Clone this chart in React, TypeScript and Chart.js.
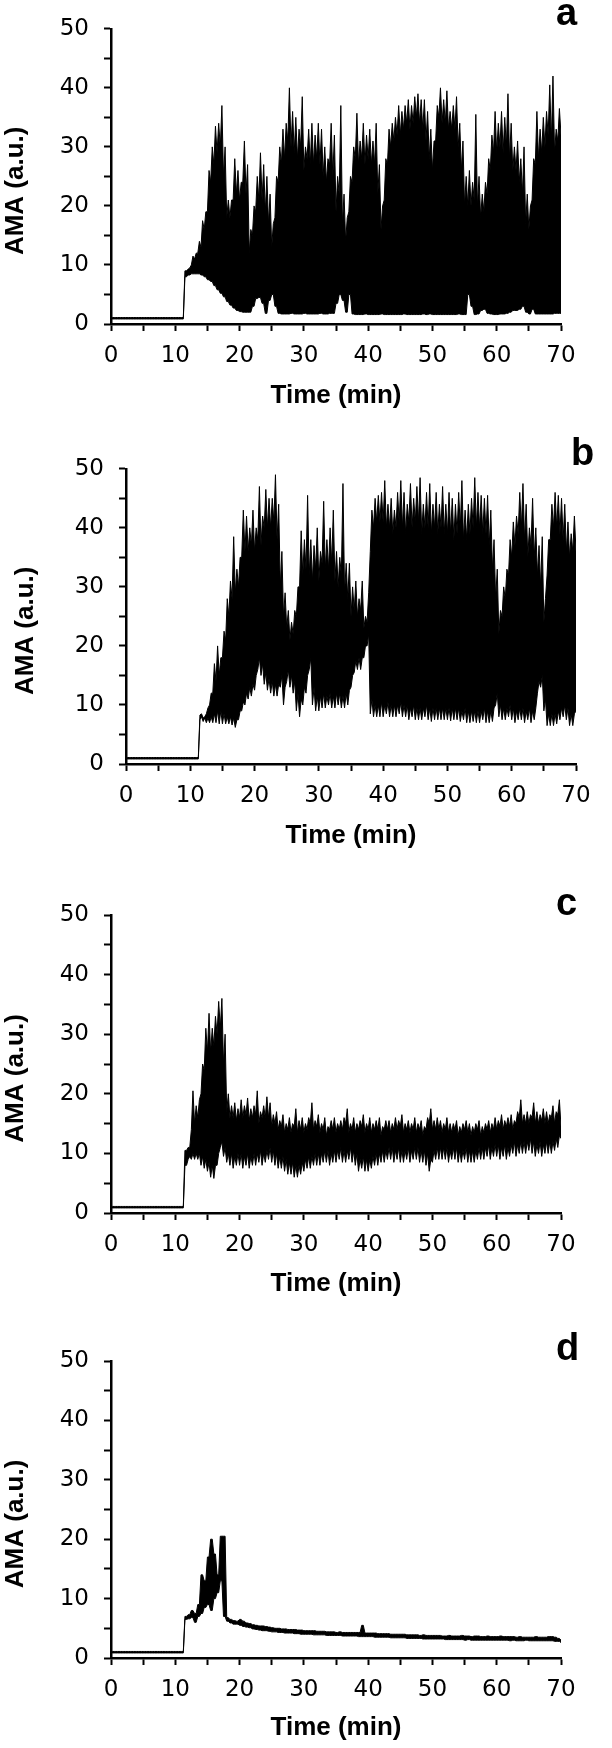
import React, { useEffect, useRef } from "react";
import { Chart, registerables } from "chart.js";

Chart.register(...registerables);

// sampling grid of the envelope readings (minutes)
const SAMPLE_STEP_MIN = 0.5;
const X_MIN = 0;
const X_MAX = 70;
const Y_MIN = 0;
const Y_MAX = 50;
const X_TITLE = "Time (min)";
const Y_TITLE = "AMA (a.u.)";
const PANEL_LETTERS = ["a", "b", "c", "d"];

// ---- Panel a: one value every 0.5 min from 0 to 70 ----
// spike tops of the oscillation
const aUpper = [
  1.1, 1.1, 1.1, 1.1, 1.1, 1.1, 1.1, 1.1, 1.1, 1.1,
  1.1, 1.1, 1.1, 1.1, 1.1, 1.1, 1.1, 1.1, 1.1, 1.1,
  1.1, 1.1, 1.1, 9, 9.5, 11.5, 12, 14, 17.5, 19,
  26, 30, 33.5, 34, 37, 30, 21, 21, 28, 26,
  24, 31, 27, 16, 20, 25, 29, 27, 25, 22,
  17, 25, 30, 33, 34, 40, 36, 35, 33, 38.5,
  30, 33, 34, 32, 34, 33, 30, 28, 34, 32,
  25, 37, 22, 18, 25, 30, 35.7, 31, 34, 32,
  33, 31, 34, 27, 20, 28, 33, 34, 35, 37,
  36, 37, 38, 37, 38.5, 39, 38, 38, 36, 33,
  31, 37, 40, 38, 39.5, 36, 37, 38.5, 34, 31,
  25, 26, 24, 35.5, 25, 22, 24, 28, 32, 36,
  34, 36, 35, 39, 34, 30, 31, 28, 30, 22,
  20, 28, 36, 33, 35, 36, 40.5, 42, 33, 36.5,
  38,
];
// top of the solid black core
const aUpperCore = [
  1.1, 1.1, 1.1, 1.1, 1.1, 1.1, 1.1, 1.1, 1.1, 1.1,
  1.1, 1.1, 1.1, 1.1, 1.1, 1.1, 1.1, 1.1, 1.1, 1.1,
  1.1, 1.1, 1.1, 9, 9.3, 10, 11, 12, 13, 16,
  19, 24, 27, 29, 30, 25, 18, 18, 21, 22,
  21, 24, 22, 12, 15, 19, 21, 21, 19, 17,
  13, 18, 24, 27, 28, 31, 30, 29, 28, 30,
  26, 28, 27, 27, 28, 27, 25, 24, 27, 25,
  19, 22, 17, 14, 19, 24, 28, 27, 28, 27,
  28, 27, 27, 22, 16, 21, 27, 30, 31, 32,
  32, 33, 34, 33, 34, 35, 34, 33, 31, 28,
  26, 31, 35, 34, 34, 33, 33, 33, 30, 26,
  20, 20, 20, 21, 20, 18, 19, 22, 26, 29,
  29, 30, 29, 30, 28, 26, 26, 24, 22, 17,
  16, 21, 27, 28, 29, 30, 32, 31, 29, 31,
  32,
];
// troughs of the oscillation
const aLower = [
  0.85, 0.85, 0.85, 0.85, 0.85, 0.85, 0.85, 0.85, 0.85, 0.85,
  0.85, 0.85, 0.85, 0.85, 0.85, 0.85, 0.85, 0.85, 0.85, 0.85,
  0.85, 0.85, 0.85, 8, 8.3, 8.5, 8.5, 8.5, 8.3, 8,
  7.5, 7.2, 6.5, 5.8, 5.2, 4.6, 3.8, 3.2, 2.7, 2.3,
  2.1, 2, 2, 2, 3, 4.3, 4.5, 3.5, 1.8, 4,
  5, 3, 1.8, 1.7, 1.7, 1.7, 1.8, 1.7, 1.7, 1.7,
  1.8, 1.7, 1.7, 1.7, 1.7, 1.8, 1.7, 1.7, 1.8, 1.8,
  3.5, 5, 4, 2, 5, 1.7, 1.6, 1.6, 1.6, 1.7,
  1.6, 1.6, 1.6, 1.6, 1.7, 1.6, 1.6, 1.6, 1.6, 1.6,
  1.6, 1.7, 1.6, 1.6, 1.6, 1.6, 1.6, 1.7, 1.6, 1.7,
  1.6, 1.6, 1.6, 1.6, 1.6, 1.6, 1.6, 1.6, 1.7, 1.6,
  1.6, 5, 3, 1.6, 1.7, 2.3, 2.5, 1.8, 1.7, 1.6,
  1.6, 1.7, 1.7, 1.8, 2, 2.3, 2.3, 2.5, 3, 2,
  1.7, 2.5, 1.7, 1.7, 1.7, 1.7, 1.7, 1.7, 1.8, 1.8,
  1.8,
];

// ---- Panel b ----
const bUpper = [
  1.1, 1.1, 1.1, 1.1, 1.1, 1.1, 1.1, 1.1, 1.1, 1.1,
  1.1, 1.1, 1.1, 1.1, 1.1, 1.1, 1.1, 1.1, 1.1, 1.1,
  1.1, 1.1, 1.1, 8.5, 8, 9.5, 12, 17, 20, 18,
  22.5, 28, 31, 38.5, 33, 35, 43, 42, 40, 43,
  40, 47, 42, 46.5, 45, 45, 49, 44, 36, 29,
  26, 24, 26, 30, 39.5, 38, 45.5, 38, 37, 40,
  36, 44.5, 38, 40, 43, 36, 35, 47.5, 34, 34,
  30, 31, 28, 31, 25, 29, 43, 45, 45.5, 46,
  48, 44, 45, 43, 46, 48, 46, 44, 47.5, 45,
  47, 48.5, 44, 46, 47.5, 44, 46, 44, 47, 44,
  46, 45, 44, 46, 48, 43, 44, 45, 48.5, 46,
  45.5, 45, 45.5, 43, 38, 33, 26, 30, 33, 38,
  41, 42, 46, 47.5, 44, 40, 45, 40, 37, 38.5,
  28, 38, 44, 46, 45.5, 45, 44, 41, 39, 42,
  41.5,
];
const bUpperCore = [
  1.1, 1.1, 1.1, 1.1, 1.1, 1.1, 1.1, 1.1, 1.1, 1.1,
  1.1, 1.1, 1.1, 1.1, 1.1, 1.1, 1.1, 1.1, 1.1, 1.1,
  1.1, 1.1, 1.1, 8.3, 7.8, 8.5, 10, 12, 14, 15,
  18, 21, 25, 28, 29, 30, 35, 36, 36, 37,
  36, 38, 37, 40, 40, 40, 41, 38, 30, 25,
  23, 21, 22, 25, 30, 32, 33, 32, 31, 33,
  31, 34, 33, 33, 34, 31, 30, 32, 29, 28,
  25, 26, 25, 26, 23, 24, 36, 40, 41, 41,
  41, 40, 40, 39, 40, 41, 40, 39, 41, 40,
  41, 41, 39, 40, 40, 39, 40, 39, 40, 39,
  39, 39, 38, 39, 40, 38, 38, 39, 40, 40,
  40, 39, 39, 37, 33, 28, 22, 25, 28, 32,
  35, 37, 39, 40, 38, 35, 37, 35, 32, 30,
  24, 32, 38, 40, 40, 39, 38, 36, 35, 36,
  36,
];
const bLowerCore = [
  0.85, 0.85, 0.85, 0.85, 0.85, 0.85, 0.85, 0.85, 0.85, 0.85,
  0.85, 0.85, 0.85, 0.85, 0.85, 0.85, 0.85, 0.85, 0.85, 0.85,
  0.85, 0.85, 0.85, 8, 7.8, 7.8, 8, 8.5, 9, 9,
  8.5, 8, 8, 7.8, 7.5, 9, 10.5, 12, 13, 13.5,
  15, 18, 17, 15.5, 14.5, 14, 13.5, 13.5, 15, 13,
  16, 15, 14, 12, 11, 13, 15, 18, 13, 11.5,
  11.5, 12, 11.5, 12, 11.5, 12, 12, 11.5, 12, 12.5,
  15, 17.5, 18, 18, 20, 22, 11, 10, 10, 10.5,
  10, 10.5, 10, 10, 10, 10.5, 10, 10, 9.5, 10,
  9.5, 9.5, 9.5, 10, 9.5, 9.5, 9.5, 9.5, 9.5, 9.5,
  9.5, 9.5, 9.5, 9.5, 9, 9.5, 9, 9, 9, 9,
  9, 9.5, 9, 9, 9.5, 12, 10, 9.5, 9.5, 10,
  9.5, 9, 9.5, 9.5, 9, 9.5, 9, 9.5, 14, 15,
  11, 8.5, 8.5, 8.5, 9, 9.5, 10, 9.5, 8.5, 8.5,
  11,
];
const bLower = [
  0.85, 0.85, 0.85, 0.85, 0.85, 0.85, 0.85, 0.85, 0.85, 0.85,
  0.85, 0.85, 0.85, 0.85, 0.85, 0.85, 0.85, 0.85, 0.85, 0.85,
  0.85, 0.85, 0.85, 7.5, 7.2, 7, 7, 7, 7, 6.8,
  6.8, 6.8, 6.8, 6.6, 6.2, 7.5, 9, 10, 11, 11.5,
  12.5, 16, 15, 13.5, 12.5, 12, 11.5, 11.5, 13, 10,
  14, 13, 12, 9, 8, 10, 12, 16, 10, 9,
  9, 9.5, 9.5, 10, 9.5, 9.5, 10, 9.5, 9.5, 10,
  13, 15.5, 16, 16, 18, 20, 8.5, 8, 8, 8,
  8, 8.5, 8, 8, 8, 8.5, 8, 8, 7.5, 8,
  7.5, 7.5, 7.5, 8, 7.5, 7.2, 7.5, 7.5, 7.5, 7.5,
  7.5, 7.3, 7.5, 7.5, 7.2, 7.5, 7, 7, 7.2, 7,
  7, 7.5, 7, 7, 7.2, 10, 8, 7.5, 7.5, 8,
  7.5, 7, 7.5, 7.5, 7, 7.5, 7, 7.5, 12, 13,
  9, 6.5, 6.5, 6.5, 6.8, 7.5, 8, 7.5, 6.5, 6.5,
  9,
];

// ---- Panel c ----
const cUpper = [
  1.1, 1.1, 1.1, 1.1, 1.1, 1.1, 1.1, 1.1, 1.1, 1.1,
  1.1, 1.1, 1.1, 1.1, 1.1, 1.1, 1.1, 1.1, 1.1, 1.1,
  1.1, 1.1, 1.1, 10.5, 11, 20.5, 18, 19, 25, 31,
  33.5, 31, 33, 35.5, 36, 30, 20, 18, 18.5, 17.5,
  19, 18, 19.3, 17.5, 18, 20.5, 17, 18, 19.5, 18.5,
  16.5, 17, 15.5, 16.5, 15, 16, 15, 17.5, 15.5, 16,
  15, 16, 18.5, 15.5, 16.5, 15, 16, 14.5, 15.5, 16,
  15, 15.5, 16, 17.5, 15, 16, 15, 15.5, 16.5, 15,
  16, 15, 15.5, 16, 14.5, 15.5, 15.5, 15, 16, 15.5,
  16.5, 15, 15.5, 15, 16, 15, 15.5, 14.5, 16, 17.5,
  15.5, 16, 15.5, 15, 16, 15, 15, 15.5, 14.5, 15,
  15.5, 15, 14.5, 15, 15.5, 14.5, 15, 15.5, 15, 16,
  15.5, 16.5, 15.5, 16, 16.5, 15.5, 17, 19, 16.5, 17,
  16.5, 18.5, 17, 16.5, 17.5, 17, 16.5, 18, 17, 19,
  16,
];
const cUpperCore = [
  1.1, 1.1, 1.1, 1.1, 1.1, 1.1, 1.1, 1.1, 1.1, 1.1,
  1.1, 1.1, 1.1, 1.1, 1.1, 1.1, 1.1, 1.1, 1.1, 1.1,
  1.1, 1.1, 1.1, 10.5, 11, 14, 15, 16, 20, 24,
  27, 27, 28, 30, 31, 25, 17, 16, 16, 15.5,
  16, 16, 16.5, 15.5, 16, 16.5, 15, 16, 16, 16,
  14.5, 15, 14, 14.5, 13.5, 14, 13.5, 14.5, 13.5, 14,
  13.5, 14, 15, 14, 14.5, 13.5, 14, 13, 14, 14,
  13.5, 14, 14, 15, 13.5, 14, 13.5, 14, 14.5, 13.5,
  14, 13.5, 14, 14, 13, 14, 14, 13.5, 14, 14,
  14.5, 13.5, 14, 13.5, 14, 13.5, 14, 13, 14, 15,
  14, 14, 14, 13.5, 14, 13.5, 13.5, 14, 13, 13.5,
  14, 13.5, 13, 13.5, 14, 13, 13.5, 14, 13.5, 14,
  14, 14.5, 14, 14.5, 14.5, 14, 15, 16, 15, 15,
  15, 16, 15, 15, 15.5, 15, 15, 16, 15, 16.5,
  14.5,
];
const cLowerCore = [
  0.85, 0.85, 0.85, 0.85, 0.85, 0.85, 0.85, 0.85, 0.85, 0.85,
  0.85, 0.85, 0.85, 0.85, 0.85, 0.85, 0.85, 0.85, 0.85, 0.85,
  0.85, 0.85, 0.85, 8, 9.5, 10, 10, 10, 9.5, 9,
  8.5, 8, 8, 10, 12, 11, 10, 10, 9.5, 10,
  10, 9.5, 10, 9.5, 10, 10, 10.5, 10, 10.5, 11,
  10.5, 10, 9.5, 9.5, 9, 8.5, 8.5, 8, 8, 8.5,
  9, 9.5, 9.5, 10, 10, 10, 10.5, 10.5, 10, 10.5,
  10.5, 11, 10.5, 10.5, 11, 10.5, 10, 9, 9.5, 9,
  9, 9.5, 10, 10, 10.5, 10.5, 11, 11, 10.5, 11,
  10.5, 10.5, 11, 10.5, 11, 11, 10.5, 10.5, 10, 9,
  10.5, 11, 11, 11, 11, 10.5, 11, 11, 10.5, 10.5,
  11, 10.5, 10.5, 10.5, 11, 11, 11, 11.5, 11, 11.5,
  11.5, 11, 11.5, 11, 11.5, 12, 11.5, 12, 12, 12,
  12.5, 12, 11.5, 12, 11.5, 12, 12, 12, 12.5, 13,
  13.5,
];
const cLower = [
  0.85, 0.85, 0.85, 0.85, 0.85, 0.85, 0.85, 0.85, 0.85, 0.85,
  0.85, 0.85, 0.85, 0.85, 0.85, 0.85, 0.85, 0.85, 0.85, 0.85,
  0.85, 0.85, 0.85, 8, 9, 9, 9, 9, 8, 7.5,
  7, 6, 5.8, 8, 11, 9.5, 8.5, 8, 7.5, 8,
  8, 7.5, 8, 7.5, 8, 8, 8.5, 8, 8.5, 9,
  8.5, 8, 7.5, 7.5, 7, 6.5, 6.5, 6, 6, 6.5,
  7, 7.5, 7.5, 8, 8, 8, 8.5, 8.5, 8, 8.5,
  8.5, 9, 8.5, 8.5, 9, 8.5, 8, 7, 7.5, 7,
  7, 7.5, 8, 8, 8.5, 8.5, 9, 9, 8.5, 9,
  8.5, 8.5, 9, 8.5, 9, 9, 8.5, 8.5, 8, 7,
  8.5, 9, 9, 9, 9, 8.5, 9, 9, 8.5, 8.5,
  9, 8.5, 8.5, 8.5, 9, 9, 9, 9.5, 9, 9.5,
  9.5, 9, 9.5, 9, 9.5, 10, 9.5, 10, 10, 10,
  10.5, 10, 9.5, 10, 9.5, 10, 10, 10, 10.5, 11,
  12.5,
];

// ---- Panel d ----
const dUpper = [
  1.1, 1.1, 1.1, 1.1, 1.1, 1.1, 1.1, 1.1, 1.1, 1.1,
  1.1, 1.1, 1.1, 1.1, 1.1, 1.1, 1.1, 1.1, 1.1, 1.1,
  1.1, 1.1, 1.1, 7, 7.3, 8, 7.5, 9, 14, 13,
  17, 20, 17.5, 14, 20.5, 20.5, 6.8, 6.5, 6.3, 6.2,
  6.5, 6.2, 5.9, 5.8, 5.6, 5.5, 5.4, 5.4, 5.3, 5.2,
  5.1, 5, 5, 4.9, 4.9, 4.8, 4.8, 4.8, 4.7, 4.7,
  4.6, 4.6, 4.6, 4.6, 4.5, 4.5, 4.5, 4.4, 4.4, 4.4,
  4.3, 4.4, 4.3, 4.3, 4.3, 4.3, 4.3, 4.3, 5.5, 4.2,
  4.2, 4.2, 4.2, 4.1, 4.1, 4.1, 4.1, 4.0, 4.0, 4.0,
  4.0, 4.0, 3.9, 3.9, 3.9, 3.9, 3.8, 3.9, 3.8, 3.8,
  3.8, 3.8, 3.8, 3.7, 3.7, 3.8, 3.7, 3.7, 3.7, 3.8,
  3.7, 3.7, 3.6, 3.7, 3.7, 3.6, 3.6, 3.7, 3.6, 3.6,
  3.6, 3.7, 3.6, 3.6, 3.6, 3.6, 3.5, 3.6, 3.5, 3.5,
  3.5, 3.5, 3.6, 3.5, 3.5, 3.5, 3.6, 3.6, 3.5, 3.3,
  3.0,
];
const dLower = [
  0.85, 0.85, 0.85, 0.85, 0.85, 0.85, 0.85, 0.85, 0.85, 0.85,
  0.85, 0.85, 0.85, 0.85, 0.85, 0.85, 0.85, 0.85, 0.85, 0.85,
  0.85, 0.85, 0.85, 6.5, 6.6, 6.8, 6, 7, 7.5, 8.5,
  9, 8, 10, 11, 13, 7, 6.2, 5.9, 5.7, 5.7,
  5.5, 5.3, 5.2, 5.1, 4.9, 4.8, 4.7, 4.6, 4.6, 4.5,
  4.4, 4.4, 4.3, 4.3, 4.2, 4.2, 4.2, 4.1, 4.1, 4.0,
  4.0, 4.0, 4.0, 3.9, 3.9, 3.9, 3.9, 3.8, 3.8, 3.8,
  3.8, 3.8, 3.7, 3.7, 3.7, 3.7, 3.7, 3.6, 3.6, 3.6,
  3.6, 3.6, 3.5, 3.5, 3.5, 3.5, 3.5, 3.4, 3.4, 3.4,
  3.4, 3.4, 3.3, 3.3, 3.3, 3.3, 3.3, 3.2, 3.2, 3.2,
  3.2, 3.2, 3.2, 3.2, 3.1, 3.1, 3.1, 3.1, 3.1, 3.1,
  3.0, 3.1, 3.0, 3.0, 3.0, 3.0, 3.0, 3.0, 3.0, 3.0,
  3.0, 3.0, 3.0, 3.0, 2.9, 3.0, 2.9, 2.9, 2.9, 3.0,
  2.9, 2.9, 2.9, 2.9, 2.9, 2.9, 2.9, 2.9, 2.8, 2.8,
  2.6,
];

const FONT = '"Liberation Sans", Arial, Helvetica, sans-serif';
const TICK_FONT = '"DejaVu Sans", "Liberation Sans", Arial, sans-serif';
const PAGE_W = 612;
const PLOT_W = 450;

type PanelSpec = {
  letter: string;
  upper: number[];
  upperCore: number[];
  lowerCore: number[];
  lower: number[];
  top: number;
  height: number;
  axisLeft: number;
  plotTop: number;
  plotBottom: number;
  xTitleY: number;
  yTitlePad: number;
  letterX: number;
  letterBaseline: number;
};

const PANELS: PanelSpec[] = [
  { letter: PANEL_LETTERS[0], upper: aUpper, upperCore: aUpperCore, lowerCore: aLower, lower: aLower, top: 0, height: 440, axisLeft: 111, plotTop: 26, plotBottom: 324, xTitleY: 395, yTitlePad: 0, letterX: 556, letterBaseline: 25 },
  { letter: PANEL_LETTERS[1], upper: bUpper, upperCore: bUpperCore, lowerCore: bLowerCore, lower: bLower, top: 440, height: 440, axisLeft: 126, plotTop: 26, plotBottom: 324, xTitleY: 395, yTitlePad: 10, letterX: 571, letterBaseline: 25 },
  { letter: PANEL_LETTERS[2], upper: cUpper, upperCore: cUpperCore, lowerCore: cLowerCore, lower: cLower, top: 880, height: 440, axisLeft: 111, plotTop: 35, plotBottom: 333, xTitleY: 403, yTitlePad: 0, letterX: 556, letterBaseline: 35 },
  { letter: PANEL_LETTERS[3], upper: dUpper, upperCore: dUpper, lowerCore: dLower, lower: dLower, top: 1320, height: 428, axisLeft: 111, plotTop: 41, plotBottom: 338, xTitleY: 407, yTitlePad: 0, letterX: 556, letterBaseline: 40 },
];

// edge of the black trace: at each sample time the first value, a quarter step later the second
function edgePoints(first: number[], second: number[]) {
  const pts: { x: number; y: number }[] = [];
  for (let k = 0; k < first.length; k++) {
    const t = k * SAMPLE_STEP_MIN;
    pts.push({ x: t, y: first[k] });
    pts.push({ x: t + SAMPLE_STEP_MIN / 2, y: second[k] });
  }
  return pts;
}

function Panel({ spec }: { spec: PanelSpec }) {
  const ref = useRef<HTMLCanvasElement>(null);
  useEffect(() => {
    const canvas = ref.current;
    if (!canvas) return;
    const titleFontSize = 26;
    const xScaleH = Math.round(spec.xTitleY + (titleFontSize * 1.2) / 2 - spec.plotBottom);
    const tickCallback = (v: any) => (Number(v) % 10 === 0 ? String(v) : "");
    const chart = new Chart(canvas, {
      type: "line",
      data: {
        datasets: [
          {
            label: "AMA upper edge",
            data: edgePoints(spec.upperCore, spec.upper),
            borderColor: "#000",
            backgroundColor: "#000",
            borderWidth: 1,
            pointRadius: 0,
            fill: "+1",
            tension: 0,
          },
          {
            label: "AMA lower edge",
            data: edgePoints(spec.lower, spec.lowerCore),
            borderColor: "#000",
            backgroundColor: "#000",
            borderWidth: 1,
            pointRadius: 0,
            fill: false,
            tension: 0,
          },
        ],
      },
      options: {
        animation: false,
        responsive: false,
        devicePixelRatio: 1,
        events: [],
        layout: {
          padding: {
            left: 0,
            top: spec.plotTop,
            right: PAGE_W - spec.axisLeft - PLOT_W,
            bottom: spec.height - spec.plotBottom - xScaleH,
          },
        },
        plugins: {
          legend: { display: false },
          tooltip: { enabled: false },
          title: { display: false },
        },
        scales: {
          x: {
            type: "linear",
            min: X_MIN,
            max: X_MAX,
            ticks: {
              stepSize: 5,
              autoSkip: false,
              maxRotation: 0,
              minRotation: 0,
              padding: 11,
              color: "#000",
              font: { family: TICK_FONT, size: 23 },
              callback: tickCallback,
            },
            grid: {
              display: true,
              drawOnChartArea: false,
              drawTicks: true,
              tickLength: 7,
              tickWidth: 2,
              tickColor: "#000",
            },
            border: { display: true, color: "#000", width: 2.5 },
            title: {
              display: true,
              text: X_TITLE,
              color: "#000",
              font: { family: FONT, size: titleFontSize, weight: "bold" },
              padding: { top: 0, bottom: 0 },
            },
            afterFit: (s: any) => {
              s.height = xScaleH;
            },
          },
          y: {
            type: "linear",
            min: Y_MIN,
            max: Y_MAX,
            ticks: {
              stepSize: 5,
              autoSkip: false,
              padding: 15,
              color: "#000",
              font: { family: TICK_FONT, size: 23 },
              callback: tickCallback,
            },
            grid: {
              display: true,
              drawOnChartArea: false,
              drawTicks: true,
              tickLength: 7,
              tickWidth: 2,
              tickColor: "#000",
            },
            border: { display: true, color: "#000", width: 2.5 },
            title: {
              display: true,
              text: Y_TITLE + "\u00a0\u00a0\u00a0\u00a0",
              color: "#000",
              font: { family: FONT, size: titleFontSize, weight: "bold" },
              padding: { top: spec.yTitlePad, bottom: 0 },
            },
            afterFit: (s: any) => {
              s.width = spec.axisLeft;
            },
          },
        },
      } as any,
    });
    return () => chart.destroy();
  }, [spec]);

  return (
    <div style={{ position: "absolute", left: 0, top: spec.top, width: PAGE_W, height: spec.height }}>
      <canvas ref={ref} width={PAGE_W} height={spec.height} style={{ display: "block", width: PAGE_W, height: spec.height }} />
      <span
        style={{
          position: "absolute",
          left: spec.letterX,
          top: spec.letterBaseline - 32.2,
          fontFamily: FONT,
          fontWeight: "bold",
          fontSize: 38,
          lineHeight: "38px",
          color: "#000",
          whiteSpace: "nowrap",
        }}
      >
        {spec.letter}
      </span>
    </div>
  );
}

export default function App() {
  return (
    <div style={{ position: "absolute", left: 0, top: 0, width: PAGE_W, height: 1748, background: "#fff", overflow: "hidden" }}>
      {PANELS.map((p) => (
        <Panel key={p.letter} spec={p} />
      ))}
    </div>
  );
}
